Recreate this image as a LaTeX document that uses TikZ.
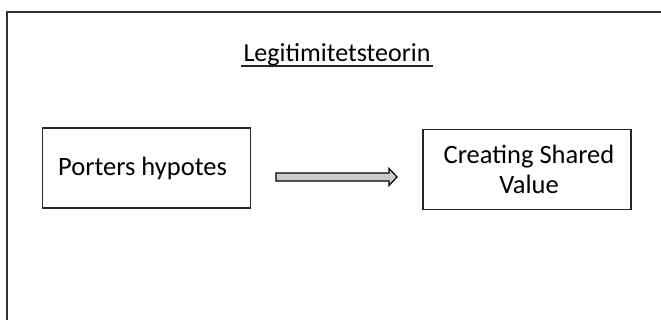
\documentclass[tikz,border=0pt]{standalone}
\usepackage{fontspec}
\setmainfont{Carlito}
\begin{document}
\begin{tikzpicture}[x=1pt,y=-1pt,
  box/.style={draw=black!85,line width=1.8pt,minimum width=208pt,minimum height=80pt,inner sep=0pt,
    font=\fontsize{26.5}{30}\selectfont,align=center},
  frame/.style={draw=black!80,line width=1.8pt},
  blockarrow/.style={draw=black,line width=1.2pt,fill=black!20,line join=miter}]
\useasboundingbox (0,0) rectangle (661,320);
\fill[white] (0,0) rectangle (661,320);
\draw[frame] (661,12) -- (7,12) -- (7,321);
\node[inner sep=0pt,anchor=base,font=\fontsize{26}{30}\selectfont] (title) at (337,61.5) {Legitimitetsteorin};
\draw[line width=1.8pt,black!85] (240.5,66) -- (433,66);
\node[box] (porter) at (146.5,168) {\hspace{-8pt}Porters hypotes};
\node[box] (csv) at (527,169.5) {\hspace{4pt}Creating Shared\\\hspace{4pt}Value};
\coordinate (as) at (276,169);
\draw[blockarrow] ([yshift=-4]as) -- ++(113,0) -- ++(0,-4.5) -- ++(8,8.5) -- ++(-8,8.5) -- ++(0,-4.5) -- ++(-113,0) -- cycle;
\end{tikzpicture}
\end{document}
